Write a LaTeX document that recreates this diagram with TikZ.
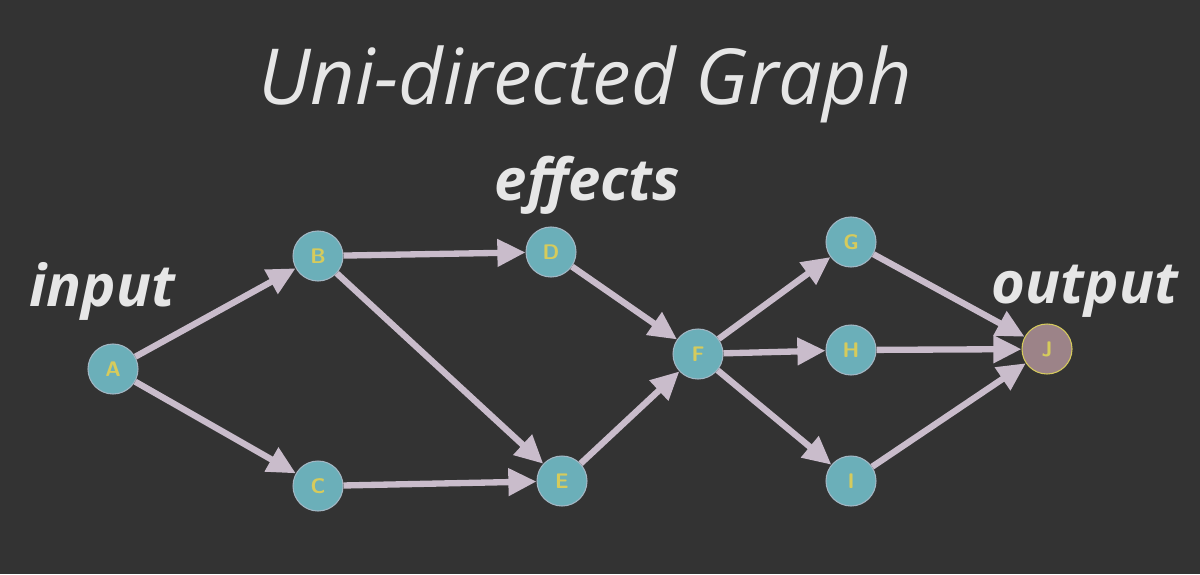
\documentclass[tikz,border=0pt]{standalone}
\usepackage{fontspec}
\setmainfont{Open Sans}
\usepackage{xcolor}
\usetikzlibrary{arrows.meta,positioning}
\definecolor{boardgray}{HTML}{333333}
\definecolor{nodeteal}{HTML}{6BAFB9}
\definecolor{lettergold}{HTML}{D6CB5C}
\definecolor{edgemauve}{HTML}{C9BCCB}
\definecolor{sinkmauve}{HTML}{9C8388}
\definecolor{chalkwhite}{HTML}{E6E6E6}
\newcommand{\graphnode}[3]{
    \node[vertex] (#1) at (#2) {#3};
}

\begin{document}
\begin{tikzpicture}[>={Triangle[length=16pt,width=15pt]}]
    \tikzset{
        vertex/.style={circle, fill=nodeteal, draw=edgemauve!60!nodeteal, line width=0.6pt,
            minimum size=1.0cm, inner sep=0pt, text=lettergold, font=\sffamily\bfseries\large},
        flow/.style={->, draw=edgemauve, line width=3.6pt},
        chalk/.style={text=chalkwhite, font=\itshape\bfseries\fontsize{33}{33}\selectfont}
    }
    \fill[boardgray] (0,0) rectangle (24,11.48);
    \useasboundingbox (0,0) rectangle (24,11.48);

    \node[text=chalkwhite, font=\itshape\fontsize{44}{44}\selectfont] (title) at (11.7,9.80) {Uni-directed Graph};

    \graphnode{A}{2.26,4.10}{A}
    \graphnode{B}{6.36,6.36}{B}
    \graphnode{C}{6.36,1.76}{C}
    \graphnode{D}{11.02,6.44}{D}
    \graphnode{E}{11.24,1.86}{E}
    \graphnode{F}{13.96,4.40}{F}
    \graphnode{G}{17.02,6.64}{G}
    \graphnode{H}{17.02,4.48}{H}
    \graphnode{I}{17.02,1.86}{I}
    \node[vertex, fill=sinkmauve, draw=lettergold] (J) at (20.94,4.50) {J};

    \node[chalk] (inputlbl) at (2.05,5.66) {input};
    \node[chalk] (effectslbl) at (11.75,7.78) {effects};
    \node[chalk] (outputlbl) at (21.7,5.66) {output};

    \draw[flow] (A) -- (B);
    \draw[flow] (A) -- (C);
    \draw[flow] (B) -- (D);
    \draw[flow] (B) -- (E);
    \draw[flow] (C) -- (E);
    \draw[flow] (D) -- (F);
    \draw[flow] (E) -- (F);
    \draw[flow] (F) -- (G);
    \draw[flow] (F) -- (H);
    \draw[flow] (F) -- (I);
    \draw[flow] (G) -- (J);
    \draw[flow] (H) -- (J);
    \draw[flow] (I) -- (J);
\end{tikzpicture}
\end{document}
